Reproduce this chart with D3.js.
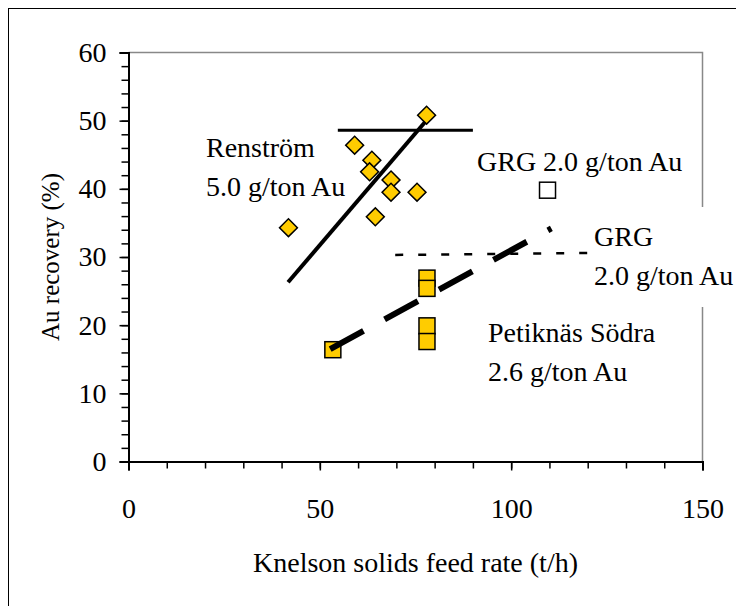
<!DOCTYPE html>
<head>
  <meta charset="utf-8">
  <script src="https://d3js.org/d3.v7.min.js"></script>
  <style>
    body { margin:0; background:#fff; }
    svg { display:block; font-family:"Liberation Serif", "Times New Roman", serif; }
  </style>
</head>
<body>
<div class="chart-container"></div>
<script>
// Renström (diamonds), 5.0 g/ton Au
var renstromX = [41.8, 59.1, 63.6, 63.0, 68.6, 68.6, 75.4, 64.5, 77.9];
var renstromY = [34.3, 46.4, 44.2, 42.5, 41.3, 39.5, 39.5, 35.9, 50.8];
// Petiknäs Södra (filled squares), 2.6 g/ton Au
var petX = [53.4, 78, 78, 78, 78];
var petY = [16.4, 26.9, 25.4, 19.9, 17.6];
// GRG 2.0 g/ton Au (open square)
var grgX = [109.5];
var grgY = [39.8];

// trend lines
var renFitX = [41.7, 77.5],  renFitY = [26.3, 49.8];
var petFitX = [52.7, 110.5], petFitY = [16.5, 34.2];
var grgPetX = [69.7, 122],   grgPetY = [30.3, 30.6];
var grgRenX = [54.7, 90],    grgRenY = [48.6, 48.6];

var xMajor = [0, 50, 100, 150];
var yMajor = [0, 10, 20, 30, 40, 50, 60];

var W = 736, H = 606;
var svg = d3.select(".chart-container").append("svg")
  .attr("width", W).attr("height", H);

// outer frame
svg.append("rect").attr("x", 8.5).attr("y", 8.5)
  .attr("width", 740).attr("height", 610)
  .attr("fill", "none").attr("stroke", "#000").attr("stroke-width", 1);

var xScale = d3.scaleLinear().domain([0, 150]).range([128.5, 702.5]);
var yScale = d3.scaleLinear().domain([0, 60]).range([461.5, 52.5]);

// plot border (top + right)
svg.append("path")
  .attr("d", "M" + xScale(0) + "," + yScale(60) + "H" + xScale(150) + "V" + yScale(0))
  .attr("fill", "none").attr("stroke", "#888").attr("stroke-width", 1.5);

// minor ticks
var gx = svg.append("g").attr("transform", "translate(0," + yScale(0) + ")");
gx.call(d3.axisBottom(xScale).tickValues(d3.range(0, 151, 10)).tickSize(7).tickFormat(""));
var gxM = svg.append("g").attr("transform", "translate(0," + yScale(0) + ")");
gxM.call(d3.axisBottom(xScale).tickValues(xMajor).tickSize(9).tickPadding(28)
  .tickFormat(d3.format("d")));

var gy = svg.append("g").attr("transform", "translate(" + xScale(0) + ",0)");
gy.call(d3.axisLeft(yScale).tickValues(d3.range(0, 61, 2)).tickSize(7).tickFormat(""));
var gyM = svg.append("g").attr("transform", "translate(" + xScale(0) + ",0)");
gyM.call(d3.axisLeft(yScale).tickValues(yMajor).tickSize(9).tickPadding(13)
  .tickFormat(d3.format("d")));

svg.selectAll(".domain").attr("stroke", "#000").attr("stroke-width", 2);
svg.selectAll(".tick line").attr("stroke", "#000").attr("stroke-width", 1.5);
svg.selectAll(".tick text").attr("font-family", "Liberation Serif, Times New Roman, serif")
  .attr("font-size", 28).attr("fill", "#000");

// axis titles
svg.append("text").attr("x", xScale(75)).attr("y", 572)
  .attr("text-anchor", "middle").attr("font-size", 28)
  .text("Knelson solids feed rate (t/h)");
svg.append("text")
  .attr("transform", "translate(59," + yScale(30) + ") rotate(-90)")
  .attr("text-anchor", "middle").attr("font-size", 25)
  .text("Au recovery (%)");

// markers
var diamond = d3.symbol().type(d3.symbolSquare).size(160);
svg.selectAll(".ren").data(renstromX).enter().append("path")
  .attr("d", diamond)
  .attr("transform", function (d, i) {
    return "translate(" + xScale(d) + "," + yScale(renstromY[i]) + ") rotate(45)";
  })
  .attr("fill", "#ffcc00").attr("stroke", "#000").attr("stroke-width", 1.5);

var sq = 16;
svg.selectAll(".pet").data(petX).enter().append("rect")
  .attr("x", function (d) { return xScale(d) - sq / 2; })
  .attr("y", function (d, i) { return yScale(petY[i]) - sq / 2; })
  .attr("width", sq).attr("height", sq)
  .attr("fill", "#ffcc00").attr("stroke", "#000").attr("stroke-width", 1.5);

svg.selectAll(".grg").data(grgX).enter().append("rect")
  .attr("x", function (d) { return xScale(d) - sq / 2; })
  .attr("y", function (d, i) { return yScale(grgY[i]) - sq / 2; })
  .attr("width", sq).attr("height", sq)
  .attr("fill", "#fff").attr("stroke", "#000").attr("stroke-width", 1.5);

// trend lines
function fit(xs, ys, width, dash) {
  var line = d3.line().x(function (d) { return xScale(d); })
    .y(function (d, i) { return yScale(ys[i]); });
  svg.append("path").attr("d", line(xs))
    .attr("fill", "none").attr("stroke", "#000")
    .attr("stroke-width", width)
    .attr("stroke-dasharray", dash);
}
fit(renFitX, renFitY, 4, null);
fit(grgRenX, grgRenY, 3, null);
fit(petFitX, petFitY, 6, "38,24");
fit(grgPetX, grgPetY, 2.5, "8,15");

// labels (white boxes, as in the source)
function label(x, y, lines, box) {
  if (box) {
    svg.append("rect").attr("x", box[0]).attr("y", box[1])
      .attr("width", box[2]).attr("height", box[3]).attr("fill", "#fff");
  }
  lines.forEach(function (t, i) {
    svg.append("text").attr("x", x).attr("y", y + i * 39)
      .attr("font-size", 28).text(t);
  });
}
label(206, 157, ["Renström", "5.0 g/ton Au"]);
label(477, 171, ["GRG 2.0 g/ton Au"]);
label(594, 246, ["GRG", "2.0 g/ton Au"], [588, 207, 160, 100]);
label(488, 342, ["Petiknäs Södra", "2.6 g/ton Au"]);
</script>
</body>
